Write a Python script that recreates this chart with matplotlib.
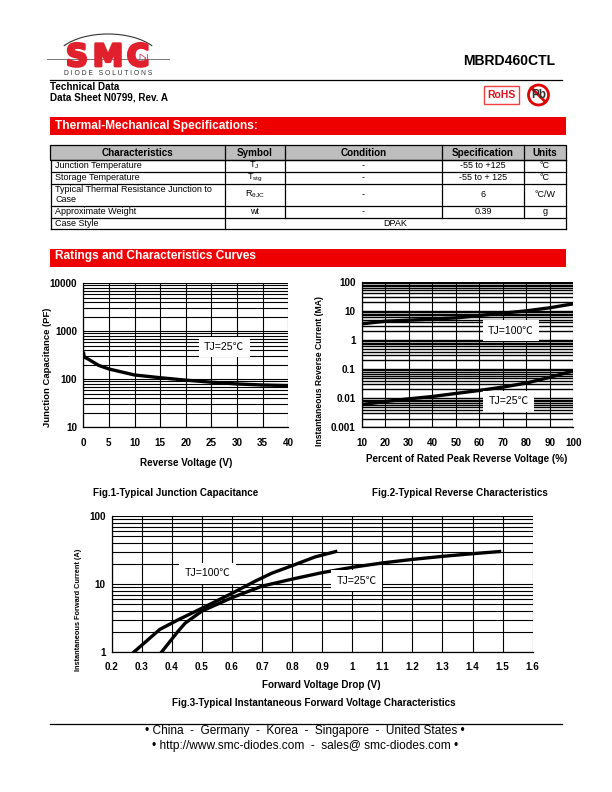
import numpy as np
import matplotlib
matplotlib.use("Agg")
import matplotlib.pyplot as plt
import matplotlib.patheffects as pe
from matplotlib.patches import Rectangle, Circle, Arc, Polygon
from matplotlib.ticker import NullFormatter

plt.rcParams['font.family'] = ['Liberation Sans', 'Noto Sans CJK SC', 'DejaVu Sans']
plt.rcParams['mathtext.fontset'] = 'custom'
plt.rcParams['mathtext.rm'] = 'Liberation Sans'

# table
table_header = ["Characteristics", "Symbol", "Condition", "Specification", "Units"]
table_rows = [
    ["Junction Temperature", r"T$\mathregular{_{J}}$", "-", "-55 to +125", "°C"],
    ["Storage Temperature", r"T$\mathregular{_{stg}}$", "-", "-55 to + 125", "°C"],
    ["Typical Thermal Resistance Junction to\nCase", r"R$\mathregular{_{\theta JC}}$", "-", "6", "°C/W"],
    ["Approximate Weight", "wt", "-", "0.39", "g"],
]
case_style = ["Case Style", "DPAK"]

# Fig.1
cap_v = [0, 0.2, 1, 3, 5, 10, 15, 20, 25, 30, 35, 40]
cap_c = [377, 290, 262, 195, 164, 123, 108, 96, 87, 80, 76, 74]

# Fig.2
rev_pct = [10, 20, 30, 40, 50, 60, 70, 80, 90, 100]
rev_100 = [3.56, 4.4, 4.76, 5.2, 5.7, 6.9, 8.3, 10, 12.7, 17.4]
rev_25 = [0.006, 0.0077, 0.0095, 0.0114, 0.0145, 0.0184, 0.024, 0.033, 0.052, 0.087]

# Fig.3
fwd_v_100 = [0.274, 0.36, 0.42, 0.5, 0.6, 0.677, 0.732, 0.8, 0.876, 0.945]
fwd_i_100 = [1, 2.15, 2.96, 4.4, 7.3, 11, 14.4, 18.6, 25, 30]
fwd_v_25 = [0.366, 0.42, 0.444, 0.5, 0.6, 0.7, 0.8, 0.9, 1.0, 1.1, 1.2, 1.3, 1.4, 1.49]
fwd_i_25 = [1, 2.0, 2.65, 4, 6.3, 9.3, 11.8, 14.7, 17.6, 20.4, 23, 25.5, 27.9, 30]
fwd_xlabels = ["0.2", "0.3", "0.4", "0.5", "0.6", "0.7", "0.8", "0.9", "1", "1.1", "1.2", "1.3", "1.4", "1.5", "1.6"]

W, H = 612, 792
RED = "#ee0000"
fig = plt.figure(figsize=(W / 100, H / 100), dpi=100)

# whole page in pixel coordinates
page = fig.add_axes([0, 0, 1, 1])
page.set_xlim(0, W)
page.set_ylim(H, 0)
page.axis("off")

# logo
page.plot([47, 169], [58.7, 58.7], color="#777777", lw=0.7)
page.add_patch(Arc((108, 62), 108, 56, theta1=200, theta2=340, color="#333333", lw=0.8))
for x, ch in zip([77, 108, 138], "SMC"):
    page.text(x, 57.5, ch, color="#e0202c", fontsize=22, fontweight="bold", family="DejaVu Sans",
              ha="center", va="center", path_effects=[pe.withStroke(linewidth=2, foreground="#e0202c")])
page.add_patch(Polygon([[140, 54], [140, 62], [146, 58]], fc="white", ec="#c04060", lw=0.6))
page.plot([146.5, 146.5], [54, 62], color="#c04060", lw=0.6)
page.text(108, 73.5, "D I O D E   S O L U T I O N S", color="#333333", fontsize=4.9, ha="center", va="center")

page.plot([50, 562], [80, 80], color="k", lw=0.9)
page.text(555, 61, "MBRD460CTL", fontsize=10.1, fontweight="bold", ha="right", va="center")
page.text(50.5, 87, "Technical Data", fontsize=7.1, fontweight="bold", va="center")
page.text(50.5, 98, "Data Sheet N0799, Rev. A", fontsize=7.1, fontweight="bold", va="center")

# RoHS / Pb marks
page.add_patch(Rectangle((484, 86), 34.5, 18, fc="white", ec="#f04040", lw=1))
page.text(501, 95.5, "RoHS", color="#d81020", fontsize=7.5, fontweight="bold", ha="center", va="center")
page.add_patch(Circle((538.5, 95), 10, fc="white", ec="#e00000", lw=2))
page.text(538.5, 95.5, "Pb", color="#333333", fontsize=8.5, fontweight="bold", ha="center", va="center")
page.plot([531.5, 545.5], [88, 102], color="#e00000", lw=2)

# red bands
page.add_patch(Rectangle((50, 117), 516, 18, fc=RED, ec="none"))
page.text(55, 126, "Thermal-Mechanical Specifications:", color="white", fontsize=8.6, fontweight="bold", va="center")
page.add_patch(Rectangle((50, 249), 516, 18, fc=RED, ec="none"))
page.text(55, 255.5, "Ratings and Characteristics Curves", color="white", fontsize=8.6, fontweight="bold", va="center")

# table
col_x = [50, 224.5, 284.5, 442, 524, 566]
row_y = [160, 172, 184, 206, 218, 229]
page.add_patch(Rectangle((49.5, 144.5), 516.5, 15.5, fc="#bdbdbd", ec="k", lw=0.9))
for i, name in enumerate(table_header):
    page.text((col_x[i] + col_x[i + 1]) / 2, 152.5, name, fontsize=7.1, fontweight="bold", ha="center", va="center")
    if i > 0:
        page.plot([col_x[i], col_x[i]], [144.5, 160], color="k", lw=0.9)
for y in row_y:
    page.plot([50.5, 566], [y, y], color="k", lw=0.9)
for x in [50.5, 566]:
    page.plot([x, x], [160, row_y[-1]], color="k", lw=0.9)
for x in col_x[1:5]:
    page.plot([x, x], [160, row_y[4]], color="k", lw=0.9)
page.plot([col_x[1], col_x[1]], [row_y[4], row_y[5]], color="k", lw=0.9)
for r, row in enumerate(table_rows):
    cy = (row_y[r] + row_y[r + 1]) / 2
    page.text(55, cy - 0.5, row[0], fontsize=6.5, va="center", linespacing=1.05)
    for c in range(1, 5):
        page.text((col_x[c] + col_x[c + 1]) / 2, cy - 0.5, row[c], fontsize=6.5, ha="center", va="center")
page.text(55, 223.5, case_style[0], fontsize=6.5, va="center")
page.text((col_x[1] + col_x[5]) / 2, 223.5, case_style[1], fontsize=6.5, ha="center", va="center")


def make_axes(left, right, top, bottom, grid_lw=0.8):
    ax = fig.add_axes([left / W, 1 - bottom / H, (right - left) / W, (bottom - top) / H])
    ax.set_yscale("log")
    ax.grid(which="both", axis="y", color="k", lw=grid_lw)
    ax.grid(which="major", axis="x", color="k", lw=0.8)
    ax.set_axisbelow(True)
    ax.yaxis.set_minor_formatter(NullFormatter())
    ax.tick_params(which="both", length=0)
    ax.tick_params(axis="x", pad=7.5, labelsize=7.1)
    ax.tick_params(axis="y", pad=4.5, labelsize=7.1)
    for s in ["top", "right"]:
        ax.spines[s].set_visible(False)
    for s in ax.spines.values():
        s.set_linewidth(0.9)
    return ax


def finish(ax, xticks, xlabels, yticks, ylabels, xlab, xlab_pos, ylab, ylab_pos, ysize=6.8):
    ax.set_xticks(xticks, xlabels, fontweight="bold")
    ax.set_yticks(yticks, ylabels, fontweight="bold")
    ax.set_xlabel(xlab, fontsize=7.15, fontweight="bold")
    ax.set_ylabel(ylab, fontsize=ysize, fontweight="bold")
    ax.xaxis.set_label_coords(xlab_pos[0], xlab_pos[1], transform=page.transData)
    ax.yaxis.set_label_coords(ylab_pos[0], ylab_pos[1], transform=page.transData)
    ax.xaxis.label.set_va("center")
    ax.yaxis.label.set_va("center")


def label(ax, x, y, s):
    ax.text(x, y, s, fontsize=7.6, ha="center", va="center",
            bbox=dict(fc="white", ec="none", boxstyle="square,pad=0.5"))


# Fig.1
ax1 = make_axes(83.3, 288.3, 283.3, 427.3)
ax1.plot(cap_v, cap_c, color="k", lw=2.4, solid_capstyle="butt")
ax1.set_xlim(0, 40)
ax1.set_ylim(10, 10000)
finish(ax1, list(range(0, 45, 5)), [str(v) for v in range(0, 45, 5)],
       [10, 100, 1000, 10000], ["10", "100", "1000", "10000"],
       "Reverse Voltage (V)", (186, 463), "Junction Capacitance (PF)", (47, 367))
label(ax1, 27.5, 471, "TJ=25℃")

# Fig.2
ax2 = make_axes(361.7, 573.3, 281.7, 427.3, grid_lw=1.0)
ax2.plot(rev_pct, rev_100, color="k", lw=2.4)
ax2.plot(rev_pct, rev_25, color="k", lw=2.4)
ax2.set_xlim(10, 100)
ax2.set_ylim(0.001, 100)
finish(ax2, rev_pct, [str(v) for v in rev_pct],
       [0.001, 0.01, 0.1, 1, 10, 100], ["0.001", "0.01", "0.1", "1", "10", "100"],
       "Percent of Rated Peak Reverse Voltage (%)", (467, 459),
       "Instantaneous Reverse Current (MA)", (319, 371), ysize=6.2)
label(ax2, 73.4, 2.1, "TJ=100℃")
label(ax2, 72.4, 0.0077, "TJ=25℃")

# Fig.3
ax3 = make_axes(111.7, 532.7, 516, 652)
ax3.plot(fwd_v_100, fwd_i_100, color="k", lw=2.4)
ax3.plot(fwd_v_25, fwd_i_25, color="k", lw=2.4)
ax3.set_xlim(0.2, 1.6)
ax3.set_ylim(1, 100)
finish(ax3, [0.2 + 0.1 * i for i in range(15)], fwd_xlabels,
       [1, 10, 100], ["1", "10", "100"],
       "Forward Voltage Drop (V)", (321.7, 685),
       "Instantaneous Forward Current (A)", (79, 610), ysize=5.35)
label(ax3, 0.519, 14.3, "TJ=100℃")
label(ax3, 1.015, 11.2, "TJ=25℃")

# captions
page.text(176, 493, "Fig.1-Typical Junction Capacitance", fontsize=7.15, fontweight="bold", ha="center", va="center")
page.text(460, 493.5, "Fig.2-Typical Reverse Characteristics", fontsize=7.15, fontweight="bold", ha="center", va="center")
page.text(314, 703, "Fig.3-Typical Instantaneous Forward Voltage Characteristics", fontsize=7.15, fontweight="bold", ha="center", va="center")

# footer
page.plot([50, 562], [723.5, 723.5], color="k", lw=0.9)
page.text(305, 731, "• China  -  Germany  -  Korea  -  Singapore  -  United States •", fontsize=8.6, ha="center", va="center")
page.text(305, 746, "• http://www.smc-diodes.com  -  sales@ smc-diodes.com •", fontsize=8.6, ha="center", va="center")

plt.savefig("out.png", dpi=100)
